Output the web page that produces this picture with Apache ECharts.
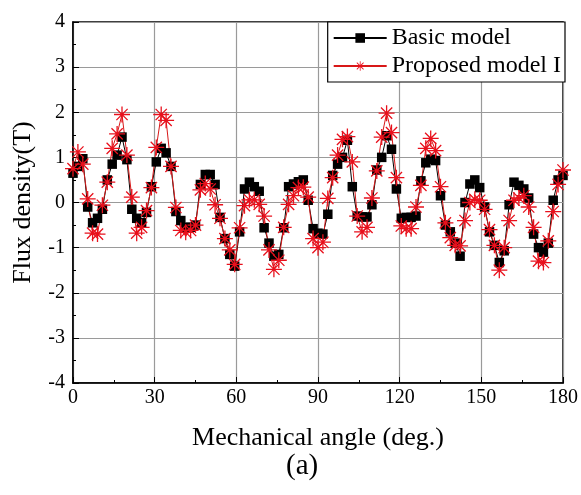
<!DOCTYPE html>
<html>
<head>
<meta charset="utf-8">
<script src="https://cdn.jsdelivr.net/npm/echarts@6/dist/echarts.min.js"></script>
<style>html,body{margin:0;padding:0;background:#fff;}#c{width:581px;height:495px;}</style>
</head>
<body>
<div id="c"></div>
<script>
var angles = [0,1.8,3.6,5.4,7.2,9,10.8,12.6,14.4,16.2,18,19.8,21.6,23.4,25.2,27,28.8,30.6,32.4,34.2,36,37.8,39.6,41.4,43.2,45,46.8,48.6,50.4,52.2,54,55.8,57.6,59.4,61.2,63,64.8,66.6,68.4,70.2,72,73.8,75.6,77.4,79.2,81,82.8,84.6,86.4,88.2,90,91.8,93.6,95.4,97.2,99,100.8,102.6,104.4,106.2,108,109.8,111.6,113.4,115.2,117,118.8,120.6,122.4,124.2,126,127.8,129.6,131.4,133.2,135,136.8,138.6,140.4,142.2,144,145.8,147.6,149.4,151.2,153,154.8,156.6,158.4,160.2,162,163.8,165.6,167.4,169.2,171,172.8,174.6,176.4,178.2,180];
var basicModel = [0.65,0.8,0.97,-0.1,-0.45,-0.35,-0.15,0.5,0.85,1.05,1.45,0.95,-0.15,-0.35,-0.45,-0.22,0.35,0.9,1.2,1.1,0.8,-0.2,-0.4,-0.55,-0.55,-0.5,0.4,0.62,0.62,0.4,-0.33,-0.8,-1.15,-1.41,-0.65,0.3,0.45,0.35,0.25,-0.56,-0.9,-1.19,-1.15,-0.56,0.35,0.41,0.46,0.5,0.05,-0.58,-0.68,-0.7,-0.26,0.6,0.85,1.0,1.38,0.35,-0.3,-0.32,-0.32,-0.05,0.72,1.0,1.48,1.18,0.3,-0.35,-0.33,-0.33,-0.3,0.48,0.88,0.96,0.93,0.15,-0.5,-0.65,-0.9,-1.19,0.0,0.41,0.5,0.33,-0.1,-0.65,-0.95,-1.33,-1.07,-0.05,0.45,0.38,0.3,0.1,-0.7,-1.0,-1.1,-0.9,0.05,0.5,0.6];
var proposedModel = [0.75,1.12,0.85,0.08,-0.68,-0.7,-0.06,0.45,1.2,1.52,1.95,1.05,0.12,-0.68,-0.55,-0.18,0.33,1.22,1.95,1.82,0.8,-0.11,-0.62,-0.66,-0.62,-0.5,0.28,0.42,0.3,-0.05,-0.35,-0.8,-1.05,-1.37,-0.56,-0.07,0.06,0.06,-0.04,-0.3,-1.05,-1.48,-1.28,-0.55,-0.04,0.15,0.33,0.34,0.12,-0.8,-1.0,-0.88,0.09,0.55,1.05,1.4,1.46,0.9,-0.3,-0.65,-0.55,0.1,0.7,1.45,1.98,1.55,0.55,-0.52,-0.58,-0.58,-0.1,0.38,1.2,1.42,1.15,0.35,-0.45,-0.78,-0.95,-0.96,-0.4,0.0,0.07,0.05,-0.15,-0.6,-0.95,-1.5,-1.0,-0.4,0.05,0.1,0.15,-0.1,-0.55,-1.3,-1.33,-0.85,-0.2,0.4,0.72];
var seriesNames = ['Basic model','Proposed model I'];
var xTitle = 'Mechanical angle (deg.)';
var yTitle = 'Flux density(T)';
var panelLabel = '(a)';

function pairs(xs, ys){ return xs.map(function(x,i){return [x, ys[i]];}); }
var starPath = 'path://M0 9.2L20 9.2L20 10.8L0 10.8Z M9.2 0L10.8 0L10.8 20L9.2 20Z M2.4 3.53L3.53 2.4L17.6 16.47L16.47 17.6Z M16.47 2.4L17.6 3.53L3.53 17.6L2.4 16.47Z';
var font = 'Liberation Serif';
var chart = echarts.init(document.getElementById('c'));
chart.setOption({
  animation: false,
  backgroundColor: '#fff',
  grid: {left: 73, right: 17, top: 22, bottom: 112, show: true, borderColor: '#000', borderWidth: 1.5, backgroundColor: 'transparent'},
  legend: {
    right: 16, top: 22, orient: 'vertical', backgroundColor: '#fff',
    borderColor: '#000', borderWidth: 1.2, borderRadius: 0,
    padding: [4, 4, 4, 5], itemGap: 4, itemWidth: 53, itemHeight: 12,
    textStyle: {fontFamily: font, fontSize: 24, color: '#000'},
    data: seriesNames
  },
  xAxis: {
    type: 'value', min: 0, max: 180, interval: 30,
    name: xTitle, nameLocation: 'middle', nameGap: 42,
    nameTextStyle: {fontFamily: font, fontSize: 26, color: '#000'},
    axisLine: {show: true, onZero: false, lineStyle: {color: '#000', width: 1.5}},
    axisTick: {show: true, inside: true, length: 6, lineStyle: {color: '#000'}},
    minorTick: {show: true, splitNumber: 2, length: 3, lineStyle: {color: '#000'}},
    splitLine: {show: true, lineStyle: {color: '#9a9a9a', width: 1.2}},
    axisLabel: {fontFamily: font, fontSize: 20, color: '#000', margin: 5}
  },
  yAxis: {
    type: 'value', min: -4, max: 4, interval: 1,
    name: yTitle, nameLocation: 'middle', nameGap: 37,
    nameTextStyle: {fontFamily: font, fontSize: 26, color: '#000'},
    axisLine: {show: true, onZero: false, lineStyle: {color: '#000', width: 1.5}},
    axisTick: {show: true, inside: true, length: 6, lineStyle: {color: '#000'}},
    minorTick: {show: true, splitNumber: 2, length: 3, lineStyle: {color: '#000'}},
    splitLine: {show: true, lineStyle: {color: '#9a9a9a', width: 1.2}},
    axisLabel: {fontFamily: font, fontSize: 20, color: '#000', margin: 8}
  },
  graphic: [{
    type: 'text', left: 286, top: 452,
    style: {text: panelLabel, fontFamily: font, fontSize: 29, fill: '#000'}
  }],
  series: [{
    name: seriesNames[0], type: 'line', data: pairs(angles, basicModel),
    symbol: 'rect', symbolSize: 9.5, showAllSymbol: true,
    itemStyle: {color: '#000'}, lineStyle: {color: '#000', width: 1}
  }, {
    name: seriesNames[1], type: 'line', data: pairs(angles, proposedModel),
    symbol: starPath, symbolSize: 16, showAllSymbol: true,
    itemStyle: {color: '#e8101c'}, lineStyle: {color: '#d81818', width: 1}
  }]
});
</script>
</body>
</html>
